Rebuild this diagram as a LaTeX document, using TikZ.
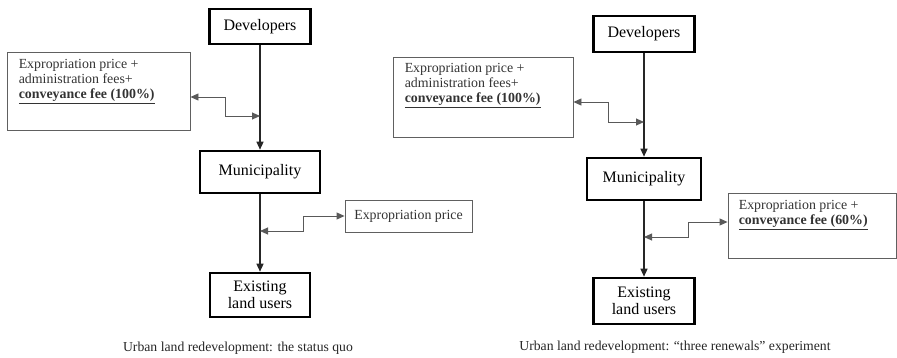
\documentclass[tikz,border=0pt]{standalone}
\usepackage{fontspec}
\setmainfont{Liberation Serif}
\usetikzlibrary{arrows.meta,positioning}

\tikzset{
  actor/.style={draw=black, line width=2.6pt, fill=white, align=center, inner sep=0pt,
    font=\fontsize{16}{17}\selectfont},
  note/.style={draw=gray!75!black, line width=0.9pt},
  notetext/.style={font=\fontsize{13.9}{15}\selectfont, align=left, inner sep=0pt, text=black!80},
  flow/.style={line width=1.3pt, draw=black!85, -{Triangle[length=8pt,width=7pt]}},
  pay/.style={line width=0.9pt, draw=gray!70!black,
    {Triangle[length=8pt,width=7pt]}-{Triangle[length=8pt,width=7pt]}},
  caption/.style={font=\fontsize{13.7}{15}\selectfont, text=black!85}
}

\begin{document}
\begin{tikzpicture}[x=1pt,y=-1pt]
\useasboundingbox (0,0) rectangle (897,357);

% status quo
\node[actor, minimum width=101, minimum height=35] (devA) at (260,26.5) {Developers};
\node[actor, minimum width=120, minimum height=42] (munA) at (260,172) {Municipality};
\node[actor, minimum width=100, minimum height=44] (landA) at (260,295) {Existing\\land users};
\node[note, minimum width=183, minimum height=78] (feeA) at (98.5,91) {};
\node[notetext, anchor=north west] (feeAtext) at ([shift={(12,8)}]feeA.north west)
  {Expropriation price +\\administration fees+\\\underline{\textbf{conveyance fee (100\%)}}};
\node[note, notetext, minimum width=127, minimum height=32] (expA) at (408.5,216) {Expropriation price};
\coordinate (jA1) at (devA.south |- 0,116);
\coordinate (jA2) at (munA.south |- 0,231);
\draw[flow] (devA) -- (munA);
\draw[flow] (munA) -- (landA);
\draw[pay] (feeA.east |- 0,97) -- ++(35,0) |- (jA1);
\draw[pay] (jA2) -- ++(43,0) |- (expA.west);
\node[caption] (capA) at (238,348) {Urban land redevelopment: the status quo};

% three renewals
\node[actor, minimum width=101, minimum height=36] (devB) at (644,34) {Developers};
\node[actor, minimum width=114, minimum height=42] (munB) at (644,179) {Municipality};
\node[actor, minimum width=101, minimum height=46] (landB) at (644,301) {Existing\\land users};
\node[note, minimum width=180, minimum height=80] (feeB) at (483,97) {};
\node[notetext, anchor=north west] (feeBtext) at ([shift={(12,7)}]feeB.north west)
  {Expropriation price +\\administration fees+\\\underline{\textbf{conveyance fee (100\%)}}};
\node[note, minimum width=168, minimum height=65] (expB) at (812,225.5) {};
\node[notetext, anchor=north west] (expBtext) at ([shift={(11,8)}]expB.north west)
  {Expropriation price +\\\underline{\textbf{conveyance fee (60\%)}}};
\coordinate (jB1) at (devB.south |- 0,122);
\coordinate (jB2) at (munB.south |- 0,237);
\draw[flow] (devB) -- (munB);
\draw[flow] (munB) -- (landB);
\draw[pay] (feeB.east |- 0,102) -- ++(35,0) |- (jB1);
\draw[pay] (jB2) -- ++(44,0) |- (expB.west |- 0,222);
\node[caption] (capB) at (675,347) {Urban land redevelopment: ``three renewals'' experiment};
\end{tikzpicture}
\end{document}
